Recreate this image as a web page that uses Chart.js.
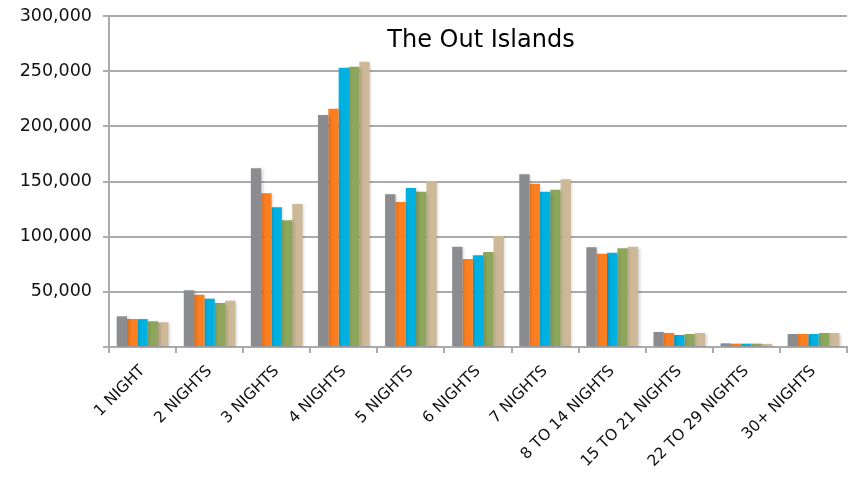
<!DOCTYPE html>
<html>
<head>
<meta charset="utf-8">
<script src="https://cdn.jsdelivr.net/npm/chart.js@4"></script>
<style>
  body { margin: 0; background: #fff; }
  #wrap { width: 851px; height: 486px; }
</style>
</head>
<body>
<div id="wrap"><canvas id="myChart"></canvas></div>
<script>
var stays = ["1 NIGHT", "2 NIGHTS", "3 NIGHTS", "4 NIGHTS", "5 NIGHTS", "6 NIGHTS", "7 NIGHTS",
             "8 TO 14 NIGHTS", "15 TO 21 NIGHTS", "22 TO 29 NIGHTS", "30+ NIGHTS"]

// one array per year, oldest first
var year1 = [27800, 51400, 162000, 210300, 138400, 90900, 156500, 90300, 13600, 3300, 11800]
var year2 = [25400, 47400, 139300, 216000, 131400, 79800, 148000, 84600, 12700, 3000, 11800]
var year3 = [25300, 43800, 126600, 253200, 144100, 83100, 140800, 85500, 10900, 3000, 11800]
var year4 = [23300, 39900, 114800, 254000, 140800, 86100, 142600, 89400, 11800, 3000, 12700]
var year5 = [22400, 42000, 129600, 258600, 150400, 100600, 152000, 90900, 12700, 2800, 12700]

var yTicks = [0, 50000, 100000, 150000, 200000, 250000, 300000]

var colors = ["#8b8c90", "#fb7e21", "#00b0e0", "#8ea55c", "#cdb997"]
var font = "'DejaVu Sans', sans-serif"
var gridColor = "#ababab"

// soft drop shadow behind the bars
var barShadow = {
  id: "barShadow",
  beforeDatasetsDraw: function(chart) {
    var ctx = chart.ctx
    ctx.save()
    ctx.shadowColor = "rgba(0,0,0,0.18)"
    ctx.shadowBlur = 3
    ctx.shadowOffsetX = 1.5
    ctx.shadowOffsetY = 1
  },
  afterDatasetsDraw: function(chart) {
    chart.ctx.restore()
  }
}

// title sits inside the plot area
var innerTitle = {
  id: "innerTitle",
  afterDraw: function(chart) {
    var ctx = chart.ctx
    var area = chart.chartArea
    ctx.save()
    ctx.font = "24px " + font
    ctx.fillStyle = "#000"
    ctx.textAlign = "center"
    ctx.textBaseline = "middle"
    ctx.fillText("The Out Islands", (area.left + area.right) / 2 + 3, area.top + 25)
    ctx.restore()
  }
}

var datasets = [year1, year2, year3, year4, year5].map(function(d, i) {
  return {
    label: "Year " + (i + 1),
    data: d,
    backgroundColor: colors[i],
    borderWidth: 0,
    categoryPercentage: 0.77,
    barPercentage: 1.0
  }
})

var myChart = document.getElementById("myChart").getContext("2d")

var chart = new Chart(myChart, {
  type: "bar",
  data: {
    labels: stays,
    datasets: datasets
  },
  plugins: [barShadow, innerTitle],
  options: {
    responsive: true,
    maintainAspectRatio: false,
    animation: false,
    layout: { padding: { top: 16, right: 4, left: 0, bottom: 0 } },
    plugins: {
      legend: { display: false },
      tooltip: { enabled: false },
      title: { display: false }
    },
    scales: {
      x: {
        grid: {
          offset: true,
          drawOnChartArea: false,
          drawTicks: true,
          tickLength: 6,
          color: gridColor,
          lineWidth: 2
        },
        border: { color: gridColor, width: 2 },
        ticks: {
          autoSkip: false,
          maxRotation: 45,
          minRotation: 45,
          color: "#111",
          font: { family: font, size: 15.5 },
          padding: 9
        },
        afterFit: function(scale) { scale.height = 139 }
      },
      y: {
        min: 0,
        max: 300000,
        afterBuildTicks: function(scale) {
          scale.ticks = yTicks.map(function(v) { return { value: v } })
        },
        grid: {
          color: gridColor,
          lineWidth: 2,
          tickLength: 6
        },
        border: { color: gridColor, width: 2 },
        ticks: {
          color: "#111",
          font: { family: font, size: 17.5 },
          padding: 11,
          callback: function(v) { return v === 0 ? "" : v.toLocaleString("en-US") }
        },
        afterFit: function(scale) {
          scale.width = 109
          scale.paddingTop = 0
        }
      }
    }
  }
})
</script>
</body>
</html>
